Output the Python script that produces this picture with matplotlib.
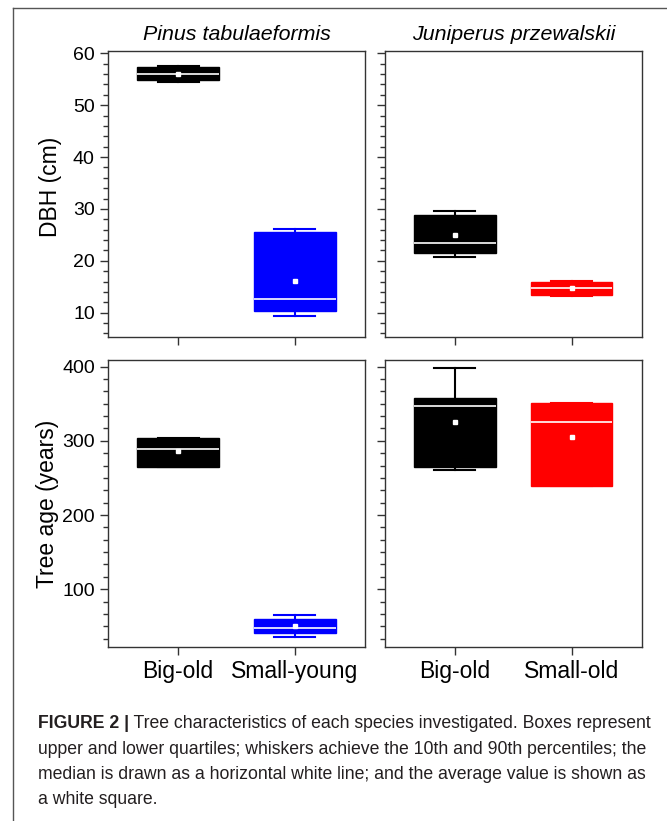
import matplotlib
matplotlib.use('Agg')
import matplotlib.pyplot as plt
from matplotlib.ticker import MultipleLocator, AutoMinorLocator

plt.rcParams['font.family'] = ['Liberation Sans', 'DejaVu Sans']

species = ['Pinus tabulaeformis', 'Juniperus przewalskii']
groups_pinus = ['Big-old', 'Small-young']
groups_juni = ['Big-old', 'Small-old']
colors_pinus = ['#000000', '#0000ff']
colors_juni = ['#000000', '#ff0000']

# each box: 10th pct, lower quartile, median, upper quartile, 90th pct, mean
dbh_pinus = [[54.5, 54.8, 56.1, 57.4, 57.6, 56.1],
             [9.4, 10.4, 12.6, 25.5, 26.2, 16.1]]
dbh_juni = [[20.7, 21.5, 23.4, 28.8, 29.7, 24.9],
            [13.3, 13.4, 14.7, 15.9, 16.1, 14.7]]
age_pinus = [[264.4, 265.2, 289.0, 303.5, 304.3, 286.0],
             [36.0, 40.7, 47.0, 60.0, 65.0, 50.5]]
age_juni = [[260.7, 265.2, 347.0, 357.4, 397.8, 325.9],
            [239.2, 239.2, 325.9, 350.7, 350.7, 305.3]]

dbh_lim = (5.3, 60.4)
age_lim = (22, 409)

fig = plt.figure(figsize=(6.67, 8.21), dpi=100)

ax_tl = fig.add_axes([0.162, 0.5895, 0.385, 0.348])
ax_tr = fig.add_axes([0.577, 0.5895, 0.385, 0.348])
ax_bl = fig.add_axes([0.162, 0.2119, 0.385, 0.3496])
ax_br = fig.add_axes([0.577, 0.2119, 0.385, 0.3496])


def draw_boxes(ax, rows, colors):
    stats = []
    for r in rows:
        stats.append(dict(whislo=r[0], q1=r[1], med=r[2], q3=r[3],
                          whishi=r[4], mean=r[5], fliers=[]))
    parts = ax.bxp(stats, positions=[1, 2], widths=0.7, capwidths=0.35,
                   patch_artist=True, showmeans=True, showfliers=False,
                   medianprops=dict(color='white', linewidth=1.2),
                   meanprops=dict(marker='s', markerfacecolor='white',
                                  markeredgecolor='white', markersize=3))
    for i, c in enumerate(colors):
        parts['boxes'][i].set_facecolor(c)
        parts['boxes'][i].set_edgecolor(c)
        for ln in parts['whiskers'][2 * i:2 * i + 2] + parts['caps'][2 * i:2 * i + 2]:
            ln.set_color(c)
            ln.set_linewidth(1.5)


draw_boxes(ax_tl, dbh_pinus, colors_pinus)
draw_boxes(ax_tr, dbh_juni, colors_juni)
draw_boxes(ax_bl, age_pinus, colors_pinus)
draw_boxes(ax_br, age_juni, colors_juni)

for ax in [ax_tl, ax_tr]:
    ax.set_ylim(*dbh_lim)
    ax.yaxis.set_major_locator(MultipleLocator(10))
    ax.yaxis.set_minor_locator(AutoMinorLocator(5))
for ax in [ax_bl, ax_br]:
    ax.set_ylim(*age_lim)
    ax.yaxis.set_major_locator(MultipleLocator(100))
    ax.yaxis.set_minor_locator(AutoMinorLocator(6))

for ax in [ax_tl, ax_tr, ax_bl, ax_br]:
    ax.set_xlim(0.4, 2.6)
    ax.set_xticks([1, 2])
    for sp in ax.spines.values():
        sp.set_color('#333333')
        sp.set_linewidth(1.0)
    ax.tick_params(axis='both', which='major', direction='out', length=6,
                   width=1, color='#333333', labelsize=14)
    ax.tick_params(axis='y', which='minor', direction='out', length=3.5,
                   width=1, color='#333333')

ax_tl.set_xticklabels([])
ax_tr.set_xticklabels([])
ax_tr.set_yticklabels([])
ax_br.set_yticklabels([])
ax_bl.set_xticklabels(groups_pinus, fontsize=16.5)
ax_br.set_xticklabels(groups_juni, fontsize=16.5)

ax_tl.set_title(species[0], style='italic', fontsize=15.4, pad=8)
ax_tr.set_title(species[1], style='italic', fontsize=15.4, pad=8)

ax_tl.set_ylabel('DBH (cm)', fontsize=16.5)
ax_tl.yaxis.set_label_coords(-0.18, 0.524)
ax_bl.set_ylabel('Tree age (years)', fontsize=16.5)
ax_bl.yaxis.set_label_coords(-0.19, 0.5)

# outer frame (left and top edges)
x0 = 13 / 667
y0 = 1 - 8 / 821
fig.add_artist(plt.Line2D([x0, x0], [0, y0], transform=fig.transFigure,
                          color='#555555', linewidth=1))
fig.add_artist(plt.Line2D([x0, 1], [y0, y0], transform=fig.transFigure,
                          color='#555555', linewidth=1))

# caption
cap_font = ['Liberation Sans Narrow', 'Liberation Sans', 'DejaVu Sans']
cap_x = 38 / 667
cap_lines = ['upper and lower quartiles; whiskers achieve the 10th and 90th percentiles; the',
             'median is drawn as a horizontal white line; and the average value is shown as',
             'a white square.']
base_y = [728, 754, 779, 804]
renderer = fig.canvas.get_renderer()

# size the caption so the second line spans the same width as in the figure
probe = fig.text(0, 0, cap_lines[0], fontsize=14, family=cap_font)
cap_size = 14 * 613 / probe.get_window_extent(renderer).width
probe.remove()

t_bold = fig.text(cap_x, 1 - base_y[0] / 821, 'FIGURE 2 |', fontsize=cap_size,
                  fontweight='bold', family=cap_font, va='baseline', color='#231f20')
bb = t_bold.get_window_extent(renderer)
x_after = bb.x1 / fig.bbox.width
fig.text(x_after, 1 - base_y[0] / 821,
         ' Tree characteristics of each species investigated. Boxes represent',
         fontsize=cap_size, family=cap_font, va='baseline', color='#231f20')
for line, yb in zip(cap_lines, base_y[1:]):
    fig.text(cap_x, 1 - yb / 821, line, fontsize=cap_size, family=cap_font,
             va='baseline', color='#231f20')

fig.savefig('out.png', dpi=100)
